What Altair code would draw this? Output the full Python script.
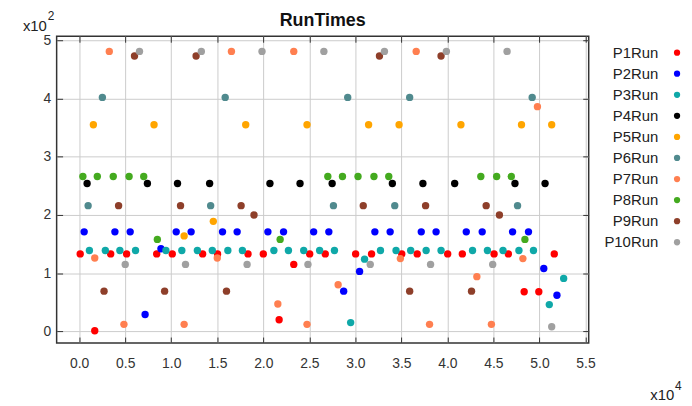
import altair as alt
import pandas as pd

series_names = ["P1Run", "P2Run", "P3Run", "P4Run", "P5Run",
                "P6Run", "P7Run", "P8Run", "P9Run", "P10Run"]
series_colors = ["#ff0000", "#0000ff", "#0fa8a8", "#000000", "#ffa500",
                 "#508a8e", "#ff7f50", "#44aa1f", "#8e3f2a", "#a0a0a0"]

p1_x = [110, 1690, 3420, 5150, 8420, 10110, 13410, 15030, 18340, 20000, 21720, 23310, 25040,
        26730, 30030, 31760, 35040, 36720, 40030, 41620, 45070, 46620, 48340, 49930, 51610]
p1_y = [133, 1, 133, 133, 133, 133, 133, 133, 133, 133, 20, 115, 133,
        133, 133, 133, 133, 133, 133, 133, 133, 133, 68, 68, 133]

p2_x = [540, 3880, 5540, 7160, 8880, 10540, 12160, 15570, 17160, 20500, 22200, 25470, 27120,
        28730, 30460, 32120, 33780, 37160, 38770, 42050, 43780, 47080, 48810, 50470, 51900]
p2_y = [171, 171, 171, 29, 142, 171, 171, 171, 171, 171, 171, 171, 171,
        69, 103, 171, 171, 171, 171, 171, 171, 171, 171, 108, 62]

p3_x = [1110, 2840, 4420, 6120, 9420, 11150, 12840, 14460, 16150, 17730, 21150, 22730, 24390,
        26120, 27730, 29490, 31000, 32730, 34420, 36010, 37690, 39310, 42730, 44350, 46040,
        47770, 49350, 51070, 52630]
p3_y = [139, 139, 139, 139, 139, 139, 139, 139, 139, 139, 139, 139, 139,
        139, 139, 15, 124, 139, 139, 139, 139, 139, 139, 139, 139,
        139, 139, 46, 91]

p4_x = [860, 7410, 10680, 14170, 20720, 23990, 27480, 34020, 37340, 40790, 47340, 50610]
p4_y = [254, 254, 254, 254, 254, 254, 254, 254, 254, 254, 254, 254]

p5_x = [1540, 8130, 11400, 14570, 18090, 24750, 31440, 34750, 41470, 48050, 51330]
p5_y = [355, 355, 164, 189, 355, 355, 355, 355, 355, 355, 355]

p6_x = [970, 2520, 14280, 15860, 27620, 29170, 34280, 35900, 47620, 49210]
p6_y = [216, 402, 216, 402, 216, 402, 216, 402, 216, 402]

p7_x = [1690, 3270, 4860, 11400, 15000, 16540, 21580, 23310, 24750, 28130, 34890, 36610,
        38060, 43200, 44780, 48200, 49780]
p7_y = [126, 481, 12, 12, 126, 481, 47, 481, 12, 80, 125, 481,
        12, 94, 12, 125, 386]

p8_x = [400, 1970, 3700, 5420, 7010, 8490, 21830, 27010, 28600, 30290, 32020, 33630,
        43630, 45350, 46940, 48420]
p8_y = [266, 266, 266, 266, 266, 158, 158, 266, 266, 266, 266, 266,
        266, 266, 266, 158]

p9_x = [2700, 4280, 6010, 9280, 11010, 12700, 16000, 17590, 18990, 30860, 32620, 35900,
        37630, 39310, 42620, 44210, 45650]
p9_y = [69, 216, 473, 69, 216, 473, 69, 216, 200, 216, 473, 69,
        216, 473, 69, 216, 200]

p10_x = [5000, 6550, 11550, 13270, 18240, 19860, 24850, 26580, 31620, 33160, 38170, 39890,
         44920, 46480, 51330]
p10_y = [115, 481, 115, 481, 115, 481, 115, 481, 115, 481, 115, 481,
         115, 481, 8]

x_ticks = [0, 5000, 10000, 15000, 20000, 25000, 30000, 35000, 40000, 45000, 50000, 55000]
y_ticks = [0, 100, 200, 300, 400, 500]

all_x = [p1_x, p2_x, p3_x, p4_x, p5_x, p6_x, p7_x, p8_x, p9_x, p10_x]
all_y = [p1_y, p2_y, p3_y, p4_y, p5_y, p6_y, p7_y, p8_y, p9_y, p10_y]

rows = []
for name, xs, ys in zip(series_names, all_x, all_y):
    for xv, yv in zip(xs, ys):
        rows.append({"series": name, "t": xv, "run": yv})
df = pd.DataFrame(rows)

FONT = "Liberation Sans"
x_scale = alt.Scale(domain=[-2450, 55350], nice=False, zero=False)
y_scale = alt.Scale(domain=[-20, 507], nice=False, zero=False)
color_scale = alt.Scale(domain=series_names, range=series_colors)

points = alt.Chart(df).mark_circle(size=55, opacity=1).encode(
    x=alt.X("t:Q", scale=x_scale, title=None,
            axis=alt.Axis(values=x_ticks, orient="bottom", offset=-6, tickSize=6,
                          domain=False, grid=True, labelPadding=14,
                          labelExpr="format(datum.value / 10000, '.1f')")),
    y=alt.Y("run:Q", scale=y_scale, title=None,
            axis=alt.Axis(values=y_ticks, orient="left", offset=-6, tickSize=6,
                          domain=False, grid=True, labelPadding=6,
                          labelExpr="format(datum.value / 100, 'd')")),
    color=alt.Color("series:N", scale=color_scale, legend=None),
)

frame_ticks = alt.Chart(df).mark_circle(opacity=0).encode(
    x=alt.X("t:Q", scale=x_scale, title=None,
            axis=alt.Axis(values=x_ticks, orient="top", offset=-6, tickSize=6,
                          domain=False, grid=False, labels=False)),
    y=alt.Y("run:Q", scale=y_scale, title=None,
            axis=alt.Axis(values=y_ticks, orient="right", offset=-6, tickSize=6,
                          domain=False, grid=False, labels=False)),
)

ann = pd.DataFrame({"a": [0]})
y_mult = alt.Chart(ann).mark_text(text="x10", align="left", baseline="alphabetic",
                                  fontSize=15, font=FONT, color="#222").encode(
    x=alt.value(-34), y=alt.value(-5))
y_mult_exp = alt.Chart(ann).mark_text(text="2", align="left", baseline="alphabetic",
                                      fontSize=12, font=FONT, color="#222").encode(
    x=alt.value(-9), y=alt.value(-16))

main = alt.layer(points, frame_ticks, y_mult, y_mult_exp).resolve_axis(
    x="independent", y="independent"
).properties(
    width=536, height=309,
    title=alt.Title("RunTimes", fontSize=18, fontWeight="bold", font=FONT,
                    anchor="middle", frame="group", offset=-20, color="#111"),
    view=alt.ViewBackground(stroke="#333333", strokeWidth=1.5),
)

leg_df = pd.DataFrame({"series": series_names})
leg_y = alt.Y("series:N", sort=series_names, axis=None, title=None,
              scale=alt.Scale(domain=series_names, range=[16.5, 207.5], padding=0))
leg_text = alt.Chart(leg_df).mark_text(align="right", baseline="middle", fontSize=15,
                                       font=FONT, color="#222").encode(
    y=leg_y, text="series:N", x=alt.value(62))
leg_pts = alt.Chart(leg_df).mark_circle(size=40, opacity=1).encode(
    y=leg_y, x=alt.value(81),
    color=alt.Color("series:N", scale=color_scale, legend=None))
x_mult = alt.Chart(ann).mark_text(text="x10", align="left", baseline="alphabetic",
                                  fontSize=15, font=FONT, color="#222").encode(
    x=alt.value(54), y=alt.value(366))
x_mult_exp = alt.Chart(ann).mark_text(text="4", align="left", baseline="alphabetic",
                                      fontSize=12, font=FONT, color="#222").encode(
    x=alt.value(79), y=alt.value(356))

legend = alt.layer(leg_text, leg_pts, x_mult, x_mult_exp).properties(
    width=85, height=309,
    view=alt.ViewBackground(strokeWidth=0),
)

chart = alt.hconcat(main, legend, spacing=8, bounds="flush").resolve_scale(
    y="independent"
).properties(
    padding={"left": 14, "top": 0, "right": 2, "bottom": 2}
).configure_view(
    strokeWidth=0
).configure_axis(
    labelFont=FONT, labelFontSize=14, labelColor="#333333",
    gridColor="#cccccc", gridWidth=1, tickColor="#333333", tickWidth=1,
)

chart.save("out.html", embed_options={"renderer": "svg", "actions": False})
